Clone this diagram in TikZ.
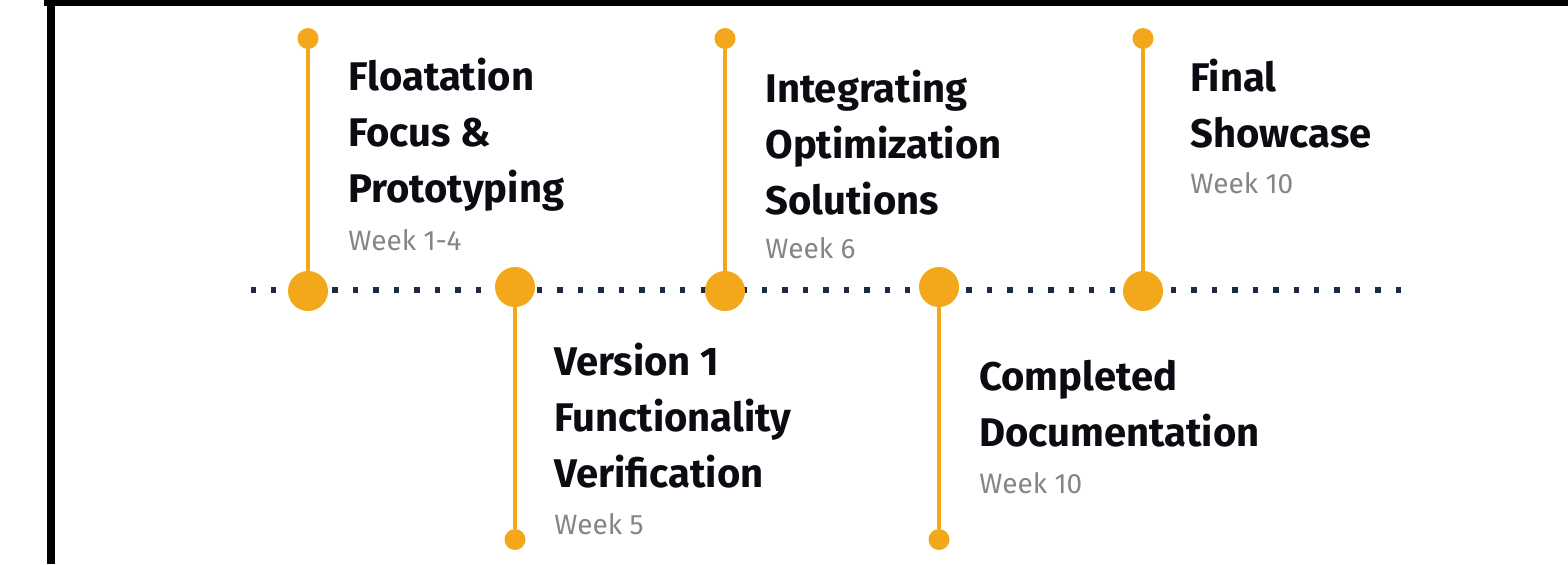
\documentclass[tikz,border=0pt]{standalone}
\usepackage{fontspec}
\setmainfont{Fira Sans}
\begin{document}
\definecolor{amber}{HTML}{F3A81B}
\definecolor{ink}{HTML}{0B0B12}
\definecolor{muted}{HTML}{858585}
\definecolor{navy}{HTML}{1E2A3D}
\begin{tikzpicture}[x=0.5pt,y=-0.5pt,
  head/.style={anchor=base west,inner sep=0pt,text=ink,font=\bfseries\fontsize{20}{24}\selectfont},
  week/.style={anchor=base west,inner sep=0pt,text=muted,font=\fontsize{14}{16}\selectfont},
  bigdot/.style={circle,fill=amber,inner sep=0pt,minimum size=20pt},
  tipdot/.style={circle,fill=amber,inner sep=0pt,minimum size=10.5pt},
  stem/.style={draw=amber,line width=2pt}]
\useasboundingbox (0,0) rectangle (1568,564);
% frame edges
\fill[black] (44,0) rectangle (1568,6.3);
\fill[black] (47,0) rectangle (55,564);
% dotted time axis
\foreach \k in {0,...,56}{
  \fill[navy] ({253.3+20.45*\k-2.7},287.3) rectangle ++(5.4,5.4);
}
% milestones on the axis
\node[bigdot] (m1) at (308,291) {};
\node[bigdot] (m2) at (515,287) {};
\node[bigdot] (m3) at (725,291) {};
\node[bigdot] (m4) at (939,287) {};
\node[bigdot] (m5) at (1143,291) {};
% stem ends
\node[tipdot] (e1) at (308,38.5) {};
\node[tipdot] (e2) at (515,539.5) {};
\node[tipdot] (e3) at (725,38.5) {};
\node[tipdot] (e4) at (939,539.5) {};
\node[tipdot] (e5) at (1143,38.5) {};
\draw[stem] (m1) -- (e1);
\draw[stem] (m2) -- (e2);
\draw[stem] (m3) -- (e3);
\draw[stem] (m4) -- (e4);
\draw[stem] (m5) -- (e5);
% labels
\node[head] (t1a) at (348,90) {Floatation};
\node[head] (t1b) at (348,146) {Focus \&};
\node[head] (t1c) at (348,202) {Prototyping};
\node[week] (w1) at (348,250) {Week 1-4};
\node[head] (t2a) at (554,375) {Version 1};
\node[head] (t2b) at (554,431) {Functionality};
\node[head] (t2c) at (554,487) {Verification};
\node[week] (w2) at (554,534) {Week 5};
\node[head] (t3a) at (765,102) {Integrating};
\node[head] (t3b) at (765,158) {Optimization};
\node[head] (t3c) at (765,214) {Solutions};
\node[week] (w3) at (765,258) {Week 6};
\node[head] (t4a) at (979,390) {Completed};
\node[head] (t4b) at (979,446.5) {Documentation};
\node[week] (w4) at (979,493) {Week 10};
\node[head] (t5a) at (1190,91) {Final};
\node[head] (t5b) at (1190,147.5) {Showcase};
\node[week] (w5) at (1190,193) {Week 10};
\end{tikzpicture}
\end{document}
